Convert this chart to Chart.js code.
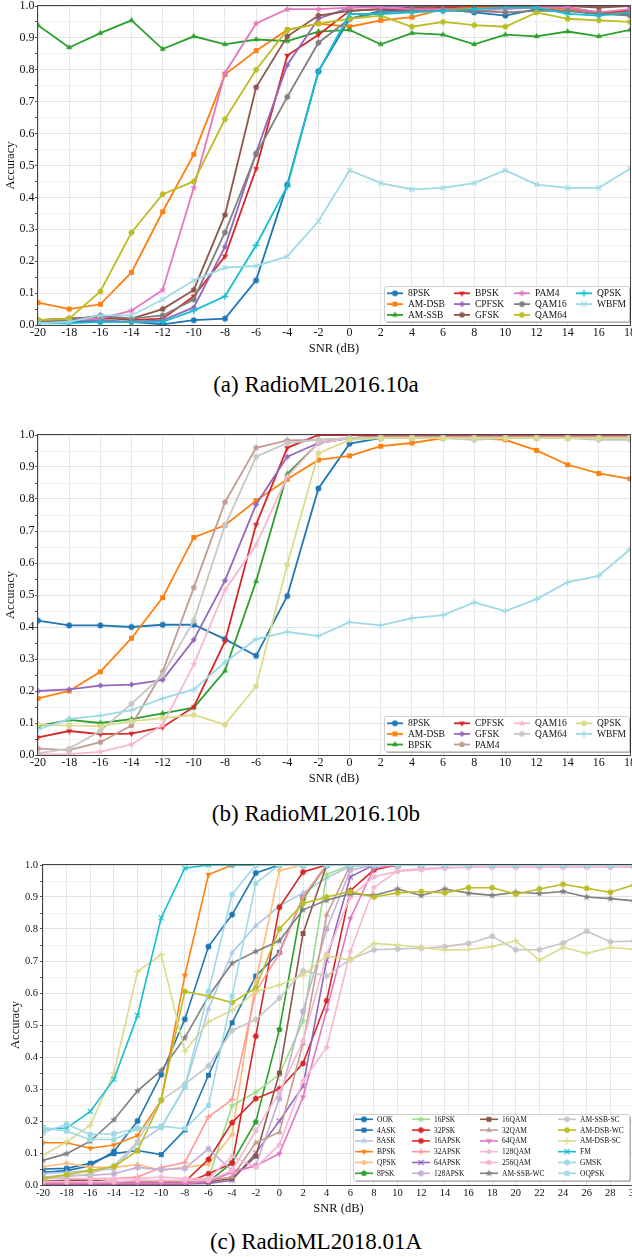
<!DOCTYPE html>
<html>
<head>
<meta charset="utf-8">
<script src="https://cdn.jsdelivr.net/npm/chart.js@4.4.0/dist/chart.umd.min.js"></script>
<style>
html, body { margin: 0; padding: 0; background: #fff; }
body { width: 632px; height: 1257px; overflow: hidden; position: relative; font-family: "Liberation Serif", "Times New Roman", serif; }
canvas { position: absolute; left: 0; }
.cap { position: absolute; left: 0; width: 632px; text-align: center; font-size: 23px; line-height: 26px; color: #000; }
</style>
</head>
<body>
<canvas id="chartA"></canvas>
<canvas id="chartB"></canvas>
<canvas id="chartC"></canvas>
<div class="cap" style="top:372px">(a) RadioML2016.10a</div>
<div class="cap" style="top:801px">(b) RadioML2016.10b</div>
<div class="cap" style="top:1229px">(c) RadioML2018.01A</div>
<script>
// SNR (dB) axes
const snr2016 = [-20, -18, -16, -14, -12, -10, -8, -6, -4, -2, 0, 2, 4, 6, 8, 10, 12, 14, 16, 18];
const snr2018 = [-20, -18, -16, -14, -12, -10, -8, -6, -4, -2, 0, 2, 4, 6, 8, 10, 12, 14, 16, 18, 20, 22, 24, 26, 28, 30];

// (a) RadioML2016.10a
const modsA = ['8PSK', 'AM-DSB', 'AM-SSB', 'BPSK', 'CPFSK', 'GFSK', 'PAM4', 'QAM16', 'QAM64', 'QPSK', 'WBFM'];
const a_8PSK  = [0.005, 0.01, 0.01, 0.01, 0.002, 0.015, 0.02, 0.14, 0.44, 0.795, 0.96, 0.985, 0.985, 0.99, 0.98, 0.97, 0.99, 0.985, 0.975, 0.975];
const a_AMDSB = [0.07, 0.05, 0.065, 0.165, 0.355, 0.535, 0.785, 0.86, 0.925, 0.945, 0.935, 0.955, 0.965, 0.99, 0.995, 0.995, 0.995, 0.99, 0.98, 0.98];
const a_AMSSB = [0.94, 0.87, 0.915, 0.955, 0.865, 0.905, 0.88, 0.895, 0.89, 0.92, 0.925, 0.88, 0.915, 0.91, 0.88, 0.91, 0.905, 0.92, 0.905, 0.925];
const a_BPSK  = [0.015, 0.02, 0.025, 0.015, 0.02, 0.09, 0.215, 0.49, 0.845, 0.91, 0.985, 0.99, 0.99, 0.995, 1, 1, 1, 0.995, 0.98, 0.985];
const a_CPFSK = [0.01, 0.015, 0.015, 0.01, 0.015, 0.055, 0.245, 0.54, 0.815, 0.96, 0.995, 1, 1, 1, 1, 1, 1, 1, 1, 1];
const a_GFSK  = [0.015, 0.02, 0.02, 0.02, 0.05, 0.11, 0.345, 0.745, 0.905, 0.97, 0.985, 0.99, 0.995, 1, 1, 1, 1, 1, 0.995, 1];
const a_PAM4  = [0.01, 0.015, 0.02, 0.045, 0.11, 0.43, 0.79, 0.945, 0.99, 0.99, 0.995, 0.995, 0.99, 0.99, 0.985, 0.99, 0.995, 0.995, 0.98, 0.99];
const a_QAM16 = [0.01, 0.015, 0.03, 0.02, 0.03, 0.08, 0.29, 0.535, 0.715, 0.885, 0.96, 0.98, 0.985, 0.985, 0.985, 0.98, 0.985, 0.985, 0.975, 0.97];
const a_QAM64 = [0.015, 0.02, 0.105, 0.29, 0.41, 0.45, 0.645, 0.8, 0.925, 0.945, 0.96, 0.97, 0.935, 0.95, 0.94, 0.935, 0.98, 0.96, 0.955, 0.95];
const a_QPSK  = [0.005, 0.005, 0.01, 0.01, 0.01, 0.045, 0.09, 0.25, 0.435, 0.795, 0.975, 0.975, 0.98, 0.985, 0.99, 0.995, 0.995, 0.975, 0.97, 0.98];
const a_WBFM  = [0.005, 0.01, 0.03, 0.03, 0.08, 0.14, 0.18, 0.185, 0.215, 0.325, 0.485, 0.445, 0.425, 0.43, 0.445, 0.485, 0.44, 0.43, 0.43, 0.49];
const seriesA = [a_8PSK, a_AMDSB, a_AMSSB, a_BPSK, a_CPFSK, a_GFSK, a_PAM4, a_QAM16, a_QAM64, a_QPSK, a_WBFM];

// (b) RadioML2016.10b
const modsB = ['8PSK', 'AM-DSB', 'BPSK', 'CPFSK', 'GFSK', 'PAM4', 'QAM16', 'QAM64', 'QPSK', 'WBFM'];
const b_8PSK  = [0.42, 0.405, 0.405, 0.4, 0.407, 0.407, 0.362, 0.31, 0.497, 0.833, 0.973, 0.99, 0.993, 0.995, 0.995, 0.995, 0.995, 0.995, 0.995, 0.995];
const b_AMDSB = [0.177, 0.2, 0.26, 0.365, 0.492, 0.68, 0.718, 0.795, 0.862, 0.922, 0.935, 0.965, 0.975, 0.99, 0.99, 0.985, 0.952, 0.907, 0.88, 0.863];
const b_BPSK  = [0.09, 0.11, 0.1, 0.112, 0.13, 0.148, 0.263, 0.543, 0.878, 0.975, 0.99, 0.995, 0.99, 0.99, 0.99, 0.99, 0.99, 0.99, 0.99, 0.99];
const b_CPFSK = [0.055, 0.075, 0.065, 0.067, 0.087, 0.15, 0.355, 0.72, 0.96, 1, 1, 1, 1, 1, 1, 1, 1, 1, 1, 1];
const b_GFSK  = [0.2, 0.205, 0.217, 0.22, 0.235, 0.36, 0.545, 0.783, 0.932, 0.975, 0.99, 0.995, 0.995, 0.995, 0.995, 0.995, 0.995, 0.995, 0.995, 0.995];
const b_PAM4  = [0.02, 0.015, 0.04, 0.092, 0.26, 0.523, 0.79, 0.96, 0.983, 0.985, 0.99, 0.995, 0.995, 0.995, 0.995, 0.995, 0.995, 0.995, 0.995, 0.995];
const b_QAM16 = [0.002, 0.003, 0.01, 0.033, 0.093, 0.283, 0.515, 0.657, 0.87, 0.975, 0.99, 0.99, 0.99, 0.99, 0.99, 0.99, 0.99, 0.99, 0.99, 0.99];
const b_QAM64 = [0.005, 0.02, 0.075, 0.16, 0.25, 0.42, 0.717, 0.932, 0.975, 0.985, 0.99, 0.99, 0.99, 0.99, 0.985, 0.99, 0.99, 0.99, 0.985, 0.985];
const b_QPSK  = [0.095, 0.092, 0.09, 0.105, 0.115, 0.125, 0.095, 0.215, 0.595, 0.943, 0.985, 0.99, 0.99, 0.99, 0.99, 0.99, 0.99, 0.99, 0.99, 0.99];
const b_WBFM  = [0.08, 0.113, 0.123, 0.14, 0.177, 0.205, 0.29, 0.362, 0.385, 0.372, 0.415, 0.405, 0.428, 0.437, 0.477, 0.45, 0.487, 0.54, 0.56, 0.643];
const seriesB = [b_8PSK, b_AMDSB, b_BPSK, b_CPFSK, b_GFSK, b_PAM4, b_QAM16, b_QAM64, b_QPSK, b_WBFM];

// (c) RadioML2018.01A
const modsC = ['OOK', '4ASK', '8ASK', 'BPSK', 'QPSK', '8PSK', '16PSK', '32PSK', '16APSK', '32APSK', '64APSK', '128APSK',
  '16QAM', '32QAM', '64QAM', '128QAM', '256QAM', 'AM-SSB-WC', 'AM-SSB-SC', 'AM-DSB-WC', 'AM-DSB-SC', 'FM', 'GMSK', 'OQPSK'];
const c_OOK     = [0.04, 0.045, 0.06, 0.105, 0.2, 0.345, 0.518, 0.745, 0.845, 0.975, 1, 1, 1, 1, 1, 1, 1, 1, 1, 1, 1, 1, 1, 1, 1, 1];
const c_4ASK    = [0.05, 0.052, 0.068, 0.098, 0.108, 0.095, 0.172, 0.343, 0.507, 0.653, 0.727, 0.9, 1, 1, 1, 1, 1, 1, 1, 1, 1, 1, 1, 1, 1, 1];
const c_8ASK    = [0.035, 0.04, 0.045, 0.05, 0.13, 0.18, 0.305, 0.55, 0.726, 0.81, 0.872, 0.913, 0.96, 0.995, 1, 1, 1, 1, 1, 1, 1, 1, 1, 1, 1, 1];
const c_BPSK    = [0.132, 0.132, 0.115, 0.125, 0.155, 0.265, 0.655, 0.97, 1, 1, 1, 1, 1, 1, 1, 1, 1, 1, 1, 1, 1, 1, 1, 1, 1, 1];
const c_QPSK    = [0.057, 0.068, 0.056, 0.055, 0.064, 0.046, 0.055, 0.065, 0.158, 0.636, 0.983, 1, 1, 1, 1, 1, 1, 1, 1, 1, 1, 1, 1, 1, 1, 1];
const c_8PSK    = [0.012, 0.012, 0.01, 0.008, 0.012, 0.01, 0.005, 0.01, 0.07, 0.197, 0.486, 0.894, 1, 1, 1, 1, 1, 1, 1, 1, 1, 1, 1, 1, 1, 1];
const c_16PSK   = [0.008, 0.008, 0.008, 0.008, 0.008, 0.01, 0.01, 0.02, 0.248, 0.29, 0.345, 0.512, 0.97, 1, 1, 1, 1, 1, 1, 1, 1, 1, 1, 1, 1, 1];
const c_32PSK   = [0.005, 0.005, 0.005, 0.005, 0.005, 0.005, 0.01, 0.08, 0.195, 0.27, 0.3, 0.38, 0.576, 0.92, 0.985, 1, 1, 1, 1, 1, 1, 1, 1, 1, 1, 1];
const c_16APSK  = [0.003, 0.003, 0.003, 0.003, 0.003, 0.003, 0.005, 0.035, 0.068, 0.465, 0.868, 0.978, 1, 1, 1, 1, 1, 1, 1, 1, 1, 1, 1, 1, 1, 1];
const c_32APSK  = [0.01, 0.015, 0.02, 0.02, 0.025, 0.055, 0.07, 0.213, 0.267, 0.604, 0.724, 0.9, 1, 1, 1, 1, 1, 1, 1, 1, 1, 1, 1, 1, 1, 1];
const c_64APSK  = [0.003, 0.003, 0.003, 0.003, 0.003, 0.003, 0.003, 0.005, 0.015, 0.1, 0.2, 0.309, 0.703, 0.963, 1, 1, 1, 1, 1, 1, 1, 1, 1, 1, 1, 1];
const c_128APSK = [0.025, 0.03, 0.03, 0.035, 0.055, 0.048, 0.052, 0.113, 0.045, 0.06, 0.27, 0.543, 0.8, 0.984, 1, 1, 1, 1, 1, 1, 1, 1, 1, 1, 1, 1];
const c_16QAM   = [0.01, 0.015, 0.015, 0.01, 0.01, 0.005, 0.005, 0.01, 0.02, 0.09, 0.35, 0.786, 1, 1, 1, 1, 1, 1, 1, 1, 1, 1, 1, 1, 1, 1];
const c_32QAM   = [0.01, 0.01, 0.01, 0.01, 0.01, 0.01, 0.01, 0.015, 0.025, 0.132, 0.165, 0.442, 0.844, 1, 1, 1, 1, 1, 1, 1, 1, 1, 1, 1, 1, 1];
const c_64QAM   = [0.005, 0.005, 0.005, 0.005, 0.005, 0.005, 0.005, 0.01, 0.04, 0.06, 0.098, 0.275, 0.546, 0.833, 0.99, 1, 1, 1, 1, 1, 1, 1, 1, 1, 1, 1];
const c_128QAM  = [0.02, 0.02, 0.02, 0.02, 0.02, 0.025, 0.02, 0.02, 0.09, 0.055, 0.126, 0.325, 0.43, 0.729, 0.93, 0.982, 0.99, 0.993, 0.993, 0.993, 0.993, 0.993, 0.993, 0.993, 0.993, 0.993];
const c_256QAM  = [0.01, 0.01, 0.01, 0.01, 0.015, 0.015, 0.015, 0.015, 0.045, 0.17, 0.29, 0.45, 0.72, 0.9, 0.963, 0.98, 0.985, 0.99, 0.993, 0.993, 0.993, 0.993, 0.993, 0.993, 0.993, 0.993];
const c_AMSSBWC = [0.077, 0.098, 0.137, 0.204, 0.294, 0.358, 0.46, 0.59, 0.693, 0.73, 0.763, 0.86, 0.89, 0.91, 0.905, 0.925, 0.905, 0.925, 0.912, 0.905, 0.915, 0.911, 0.917, 0.9, 0.895, 0.888];
const c_AMSSBSC = [0.02, 0.025, 0.035, 0.06, 0.135, 0.265, 0.315, 0.372, 0.483, 0.517, 0.584, 0.669, 0.653, 0.705, 0.735, 0.738, 0.74, 0.745, 0.755, 0.777, 0.735, 0.735, 0.756, 0.793, 0.76, 0.762];
const c_AMDSBWC = [0.02, 0.033, 0.045, 0.058, 0.107, 0.265, 0.605, 0.59, 0.57, 0.616, 0.8, 0.88, 0.9, 0.917, 0.9, 0.913, 0.917, 0.913, 0.929, 0.929, 0.909, 0.925, 0.94, 0.927, 0.915, 0.938];
const c_AMDSBSC = [0.093, 0.135, 0.187, 0.35, 0.667, 0.72, 0.418, 0.51, 0.546, 0.604, 0.625, 0.656, 0.716, 0.703, 0.755, 0.75, 0.742, 0.734, 0.736, 0.745, 0.763, 0.703, 0.742, 0.724, 0.742, 0.737];
const c_FM      = [0.175, 0.178, 0.23, 0.33, 0.53, 0.835, 0.99, 1, 1, 1, 1, 1, 1, 1, 1, 1, 1, 1, 1, 1, 1, 1, 1, 1, 1, 1];
const c_GMSK    = [0.163, 0.19, 0.158, 0.16, 0.178, 0.18, 0.307, 0.605, 0.908, 1, 1, 1, 1, 1, 1, 1, 1, 1, 1, 1, 1, 1, 1, 1, 1, 1];
const c_OQPSK   = [0.18, 0.168, 0.142, 0.142, 0.176, 0.184, 0.176, 0.249, 0.59, 0.943, 1, 1, 1, 1, 1, 1, 1, 1, 1, 1, 1, 1, 1, 1, 1, 1];
const seriesC = [c_OOK, c_4ASK, c_8ASK, c_BPSK, c_QPSK, c_8PSK, c_16PSK, c_32PSK, c_16APSK, c_32APSK, c_64APSK, c_128APSK,
  c_16QAM, c_32QAM, c_64QAM, c_128QAM, c_256QAM, c_AMSSBWC, c_AMSSBSC, c_AMDSBWC, c_AMDSBSC, c_FM, c_GMSK, c_OQPSK];

// colores (tab20) y marcadores
const colorsA = ['#1f77b4', '#ff7f0e', '#2ca02c', '#d62728', '#9467bd', '#8c564b', '#e377c2', '#7f7f7f', '#bcbd22', '#17becf', '#9edae5'];
const colorsB = ['#1f77b4', '#ff7f0e', '#2ca02c', '#d62728', '#9467bd', '#c49c94', '#f7b6d2', '#c7c7c7', '#dbdb8d', '#9edae5'];
const colorsC = ['#1f77b4', '#1f77b4', '#aec7e8', '#ff7f0e', '#ffbb78', '#2ca02c', '#98df8a', '#d62728', '#d62728', '#ff9896', '#9467bd', '#c5b0d5',
  '#8c564b', '#c49c94', '#e377c2', '#f7b6d2', '#f7b6d2', '#7f7f7f', '#c7c7c7', '#bcbd22', '#dbdb8d', '#17becf', '#9edae5', '#9edae5'];
const markerCycle = ['o', 's', '^', 'v', 'D', 'p', '*', 'h', 'H', '+', 'x'];

Chart.defaults.font.family = '"Liberation Serif", "Times New Roman", serif';
Chart.defaults.color = '#111';

function makeMarker(shape, color, r) {
    const s = Math.ceil(r * 3 + 4);
    const c = document.createElement('canvas');
    c.width = s; c.height = s;
    const g = c.getContext('2d');
    const m = s / 2;
    g.fillStyle = color; g.strokeStyle = color; g.lineWidth = 1.3;
    const poly = (n, rad, rot) => {
        g.beginPath();
        for (let k = 0; k < n; k++) {
            const t = rot + k * 2 * Math.PI / n;
            const px = m + rad * Math.cos(t), py = m + rad * Math.sin(t);
            if (k) g.lineTo(px, py); else g.moveTo(px, py);
        }
        g.closePath(); g.fill();
    };
    switch (shape) {
        case 'o': g.beginPath(); g.arc(m, m, r, 0, 2 * Math.PI); g.fill(); break;
        case 's': g.fillRect(m - r * 0.85, m - r * 0.85, r * 1.7, r * 1.7); break;
        case '^': poly(3, r * 1.2, -Math.PI / 2); break;
        case 'v': poly(3, r * 1.2, Math.PI / 2); break;
        case 'D': poly(4, r * 1.05, 0); break;
        case 'p': poly(5, r * 1.1, -Math.PI / 2); break;
        case 'h': poly(6, r * 1.1, -Math.PI / 2); break;
        case 'H': poly(6, r * 1.1, 0); break;
        case '*': {
            g.beginPath();
            for (let k = 0; k < 10; k++) {
                const t = -Math.PI / 2 + k * Math.PI / 5;
                const rad = k % 2 ? r * 0.55 : r * 1.35;
                const px = m + rad * Math.cos(t), py = m + rad * Math.sin(t);
                if (k) g.lineTo(px, py); else g.moveTo(px, py);
            }
            g.closePath(); g.fill();
            break;
        }
        case '+':
            g.beginPath(); g.moveTo(m - r * 1.2, m); g.lineTo(m + r * 1.2, m);
            g.moveTo(m, m - r * 1.2); g.lineTo(m, m + r * 1.2); g.stroke();
            break;
        case 'x':
            g.beginPath(); g.moveTo(m - r * 0.9, m - r * 0.9); g.lineTo(m + r * 0.9, m + r * 0.9);
            g.moveTo(m + r * 0.9, m - r * 0.9); g.lineTo(m - r * 0.9, m + r * 0.9); g.stroke();
            break;
    }
    return c;
}

function roundRect(ctx, x, y, w, h, rad) {
    ctx.beginPath();
    ctx.moveTo(x + rad, y);
    ctx.arcTo(x + w, y, x + w, y + h, rad);
    ctx.arcTo(x + w, y + h, x, y + h, rad);
    ctx.arcTo(x, y + h, x, y, rad);
    ctx.arcTo(x, y, x + w, y, rad);
    ctx.closePath();
}

// marco de ejes + leyenda en columnas (como matplotlib)
function framePlugin(L, offY) {
    return {
        id: 'frameLegend',
        afterDatasetsDraw(chart) {
            const ctx = chart.ctx, a = chart.chartArea;
            ctx.save();
            ctx.strokeStyle = '#444'; ctx.lineWidth = 1;
            ctx.strokeRect(Math.round(a.left) - 0.5, Math.round(a.top) - 0.5, Math.round(a.right - a.left) + 1, Math.round(a.bottom - a.top) + 1);

            const x = L.box[0], y = L.box[1] - offY, w = L.box[2], h = L.box[3];
            ctx.fillStyle = 'rgba(0,0,0,0.3)';
            roundRect(ctx, x + 2, y + 2, w, h, 2); ctx.fill();
            ctx.fillStyle = '#fff'; ctx.strokeStyle = '#cfcfcf';
            roundRect(ctx, x + 0.5, y + 0.5, w, h, 2); ctx.fill(); ctx.stroke();

            const ds = chart.data.datasets;
            const n = ds.length, ncol = L.cols.length;
            const base = Math.floor(n / ncol), extra = n % ncol;
            ctx.font = L.font + 'px "Liberation Serif"';
            ctx.textBaseline = 'middle'; ctx.textAlign = 'left';
            let k = 0;
            for (let c = 0; c < ncol; c++) {
                const cnt = base + (c < extra ? 1 : 0);
                for (let r = 0; r < cnt; r++, k++) {
                    const d = ds[k];
                    const lx = L.cols[c], ly = L.row0 - offY + r * L.dy;
                    ctx.strokeStyle = d.borderColor; ctx.lineWidth = d.borderWidth;
                    ctx.beginPath(); ctx.moveTo(lx, ly); ctx.lineTo(lx + L.len, ly); ctx.stroke();
                    const mk = d.pointStyle;
                    ctx.drawImage(mk, lx + L.len / 2 - mk.width / 2, ly - mk.height / 2);
                    ctx.fillStyle = '#111';
                    ctx.fillText(d.label, lx + L.len + L.gap, ly + 0.5);
                }
            }
            ctx.restore();
        }
    };
}

function buildChart(id, cfg) {
    const PADT = 16, XH = 31;
    const plotH = cfg.bottom - cfg.top;
    const W = cfg.right + 10, H = PADT + plotH + XH;
    const canvas = document.getElementById(id);
    canvas.width = W; canvas.height = H;
    canvas.style.width = W + 'px'; canvas.style.height = H + 'px';
    const offY = cfg.top - PADT;
    canvas.style.top = offY + 'px';

    const datasets = cfg.names.map((name, i) => ({
        label: name,
        data: cfg.x.map((x, j) => ({ x: x, y: cfg.series[i][j] })),
        borderColor: cfg.colors[i],
        backgroundColor: cfg.colors[i],
        borderWidth: cfg.lw,
        pointStyle: makeMarker(markerCycle[i % markerCycle.length], cfg.colors[i], cfg.r),
        pointRadius: cfg.r,
        tension: 0,
        order: -i
    }));

    return new Chart(canvas, {
        type: 'line',
        data: { datasets },
        options: {
            responsive: false,
            animation: false,
            devicePixelRatio: 1,
            layout: { padding: { top: PADT, right: 10, bottom: 0, left: 0 } },
            plugins: { legend: { display: false }, tooltip: { enabled: false } },
            scales: {
                x: {
                    type: 'linear', min: -20, max: cfg.xMax,
                    afterFit: s => { s.height = XH; },
                    ticks: { stepSize: 2, autoSkip: false, maxRotation: 0, padding: cfg.xPad, font: { size: cfg.tick }, color: '#111' },
                    grid: { color: '#e6e6e6', drawTicks: false },
                    border: { display: false },
                    title: { display: true, text: 'SNR (dB)', font: { size: 12.5 }, color: '#111', padding: { top: 0, bottom: 0 } }
                },
                y: {
                    min: 0, max: 1,
                    afterFit: s => { s.width = cfg.left; },
                    ticks: {
                        stepSize: 0.05, autoSkip: false, padding: cfg.yPad, font: { size: cfg.tick }, color: '#111',
                        callback: v => (Math.round(v * 20) % 2 === 0 ? Number(v).toFixed(1) : '')
                    },
                    grid: {
                        color: c => (c.tick && Math.round(c.tick.value * 20) % 2 === 0 ? '#e3e3e3' : '#f0f0f0'),
                        tickColor: '#555', tickLength: 3
                    },
                    border: { display: false },
                    title: { display: true, text: 'Accuracy', font: { size: 12.5 }, color: '#111', padding: { top: cfg.yTitlePad, bottom: 0 } }
                }
            }
        },
        plugins: [framePlugin(cfg.legend, offY)]
    });
}

buildChart('chartA', {
    names: modsA, series: seriesA, colors: colorsA, x: snr2016, xMax: 18,
    top: 6, bottom: 325, left: 38, right: 630,
    tick: 12, xPad: 1, yPad: 0.5, yTitlePad: 3.5, r: 2.9, lw: 1.8,
    legend: { box: [384, 286, 245, 35], cols: [387, 454, 514, 576], row0: 293.3, dy: 10.8, len: 16, gap: 5, font: 9.5 }
});

buildChart('chartB', {
    names: modsB, series: seriesB, colors: colorsB, x: snr2016, xMax: 18,
    top: 435, bottom: 755, left: 38, right: 630,
    tick: 12, xPad: 1, yPad: 0.5, yTitlePad: 3.5, r: 2.9, lw: 1.8,
    legend: { box: [384, 716, 245, 35], cols: [387, 454, 514, 576], row0: 723.3, dy: 10.6, len: 16, gap: 5, font: 9.5 }
});

buildChart('chartC', {
    names: modsC, series: seriesC, colors: colorsC, x: snr2018, xMax: 30,
    top: 865, bottom: 1185, left: 43, right: 634,
    tick: 10.5, xPad: 2, yPad: 2, yTitlePad: 8.5, r: 2.9, lw: 1.6,
    legend: { box: [353, 1114, 276, 66], cols: [355, 412, 480, 558], row0: 1119.3, dy: 10.8, len: 18, gap: 4, font: 7.5 }
});
</script>
</body>
</html>
